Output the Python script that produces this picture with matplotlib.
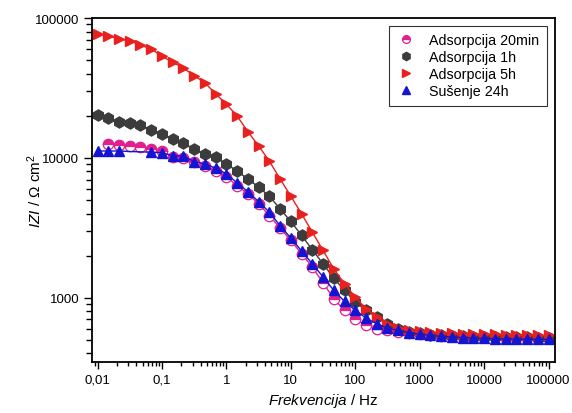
import numpy as np
import matplotlib
matplotlib.use('Agg')
import matplotlib.pyplot as plt
from matplotlib.ticker import FixedLocator, LogLocator, NullFormatter, FixedFormatter

plt.rcParams['font.family'] = ['Liberation Sans', 'DejaVu Sans']
plt.rcParams['mathtext.fontset'] = 'custom'
plt.rcParams['mathtext.rm'] = 'Liberation Sans'
plt.rcParams['mathtext.it'] = 'Liberation Sans:italic'

# frequency grid (Hz), 6 points per decade
freq = [0.01, 0.0147, 0.0215, 0.0316, 0.0464, 0.0681,
        0.1, 0.147, 0.215, 0.316, 0.464, 0.681,
        1, 1.47, 2.15, 3.16, 4.64, 6.81,
        10, 14.7, 21.5, 31.6, 46.4, 68.1,
        100, 147, 215, 316, 464, 681,
        1000, 1470, 2150, 3160, 4640, 6810,
        10000, 14700, 21500, 31600, 46400, 68100,
        100000]

# |Z| in Ohm cm2
z_20min = [np.nan, 12600, 12400, 12200, 12000, 11600, 11200, 10100, 9950, 9420, 8800,
           8070, 7320, 6340, 5530, 4690, 3870, 3150, 2570, 2060, 1660, 1280, 984,
           812, 708, 634, 601, 584, 569,
           558, 549, 542, 536, 531, 527, 524, 522, 520, 518, 517, 516, 515, 514]
z_1h = [20300, 19200, 18000, 17700, 17200, 15700, 14800, 13700, 12800, 11500, 10700,
        10100, 9060, 8040, 7080,
        6180, 5320, 4320, 3510, 2790, 2210, 1750, 1380, 1130, 931, 812, 728, 652, 601, 572,
        556, 546, 539, 534, 530, 527, 525, 523, 522, 521, 520, 519, 518]
z_5h = [76900, 74800, 70800, 68800, 64100, 60100, 53300, 48300, 43800, 38800, 34400,
        28700, 24200, 19900, 15400, 12200, 9470, 7080,
        5320, 3980, 2950, 2180, 1610, 1260, 1010, 834, 727, 652, 608, 584, 574,
        566, 561, 557, 554, 551, 549, 547, 545, 543, 541, 540, 538]
z_24h = [11200, 11200, 11200, 11100, 11050,
         10990, 10860, 10380, 10300, 9420, 9060, 8430, 7690,
         6630, 5740, 4870, 4090, 3280, 2670, 2160, 1750, 1410, 1130, 942, 812, 716, 652,
         608, 584, 562,
         548, 538, 530, 524, 519, 515, 512, 510, 508, 507, 506, 505, 504]

labels = ['Adsorpcija 20min', 'Adsorpcija 1h', 'Adsorpcija 5h', 'Sušenje 24h']
xticks = [0.01, 0.1, 1, 10, 100, 1000, 10000, 100000]
xticklabels = ['0,01', '0,1', '1', '10', '100', '1000', '10000', '100000']
yticks = [1000, 10000, 100000]
yticklabels = ['1000', '10000', '100000']

pink = '#e0208c'
grey = '#3c3c3c'
red = '#e8201e'
blue = '#1414d2'

fig = plt.figure(figsize=(5.72, 4.14), dpi=100)
ax = fig.add_axes([0.1614, 0.1239, 0.8089, 0.8302])

ms = 7.5
ax.plot(freq, z_20min, color=pink, lw=1, marker='o', ms=ms, fillstyle='top',
        mfc=pink, mfcalt='white', mec=pink, mew=0.9, label=labels[0])
ax.plot(freq, z_1h, color=grey, lw=1, marker='h', ms=ms + 0.5, mfc=grey, mec=grey,
        label=labels[1])
ax.plot(freq, z_5h, color=red, lw=1, marker='>', ms=ms, mfc=red, mec=red,
        label=labels[2])
blue_marks = [i for i in range(len(freq)) if i not in (3, 4)]
ax.plot(freq, z_24h, color=blue, lw=1, marker='^', ms=ms, mfc=blue, mec=blue,
        markevery=blue_marks, label=labels[3])

ax.set_xscale('log')
ax.set_yscale('log')
ax.set_xlim(0.0083, 126000)
ax.set_ylim(349, 100000)

ax.xaxis.set_major_locator(FixedLocator(xticks))
ax.xaxis.set_major_formatter(FixedFormatter(xticklabels))
ax.xaxis.set_minor_locator(LogLocator(base=10, subs=np.arange(2, 10), numticks=20))
ax.xaxis.set_minor_formatter(NullFormatter())
ax.yaxis.set_major_locator(FixedLocator(yticks))
ax.yaxis.set_major_formatter(FixedFormatter(yticklabels))
ax.yaxis.set_minor_locator(LogLocator(base=10, subs=np.arange(2, 10), numticks=20))
ax.yaxis.set_minor_formatter(NullFormatter())

ax.tick_params(which='both', direction='out', top=False, right=False, labelsize=9.5, width=1)
ax.tick_params(axis='x', which='major', length=5)
ax.tick_params(axis='x', which='minor', length=3)
ax.tick_params(axis='y', which='major', length=6)
ax.tick_params(axis='y', which='minor', length=4)
for sp in ax.spines.values():
    sp.set_linewidth(1.3)

ax.set_xlabel(r'$\mathit{Frekvencija}$ / Hz', fontsize=11)
ax.set_ylabel(r'$\mathit{IZI}$ / $\Omega$ cm$^2$', fontsize=11)
ax.xaxis.set_label_coords(0.5, -0.085)
ax.yaxis.set_label_coords(-0.105, 0.5)

leg = ax.legend(loc='upper right', bbox_to_anchor=(0.982, 0.978), borderaxespad=0,
                fancybox=False, edgecolor='black', fontsize=10.3, handlelength=1.2,
                handletextpad=1.0, labelspacing=0.2, borderpad=0.55, markerscale=0.75)
leg.get_frame().set_linewidth(0.8)
for h in leg.get_lines():
    h.set_linestyle('none')

fig.savefig('out.png', dpi=100)
